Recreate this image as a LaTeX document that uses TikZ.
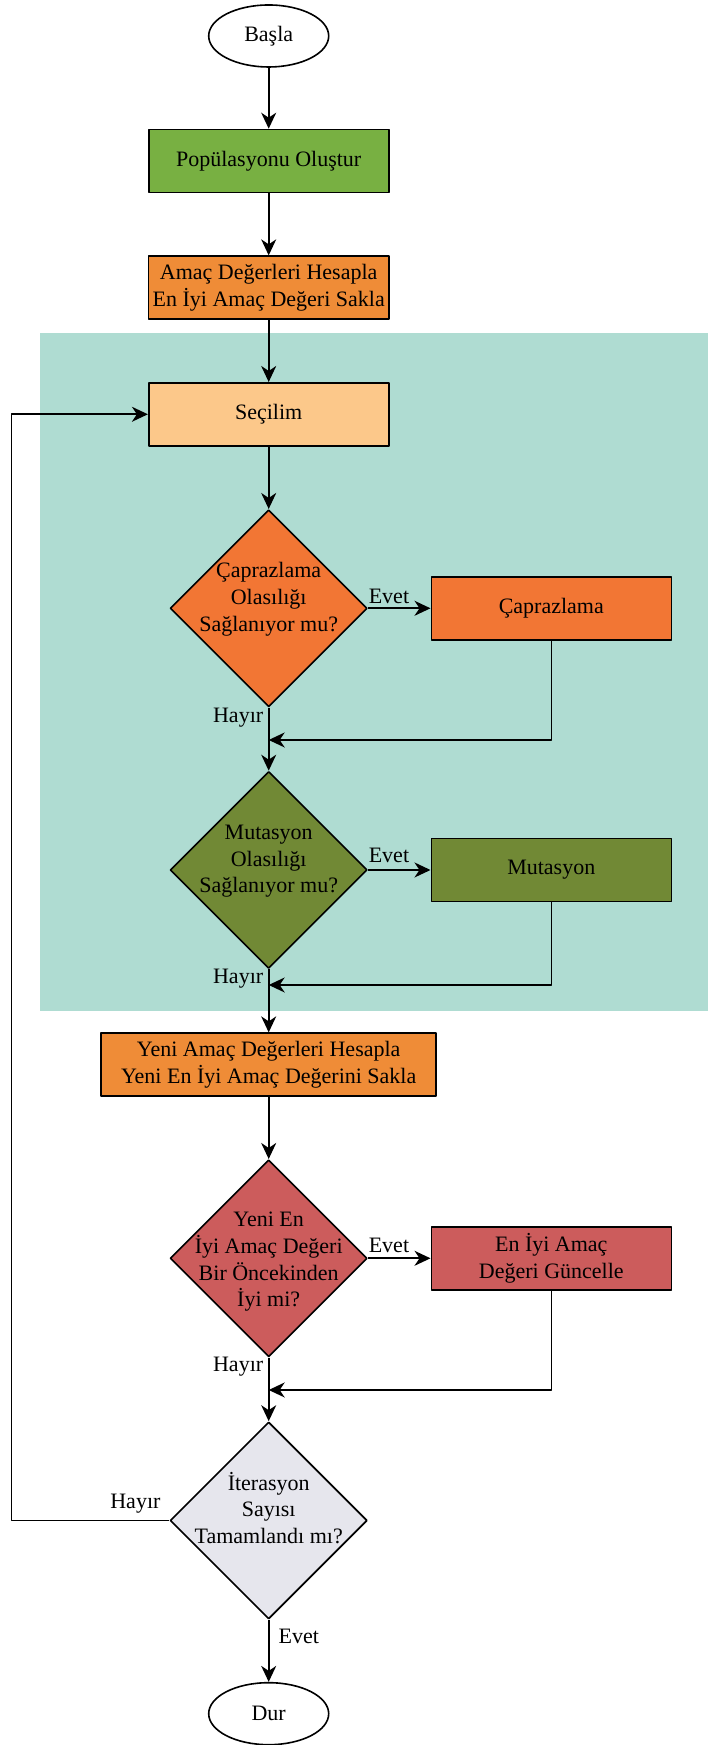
\documentclass[tikz,border=0pt]{standalone}
\usepackage{fontspec}
\setmainfont{Liberation Serif}
\usepackage{tikz}
\usetikzlibrary{arrows.meta,shapes.geometric}
\usepackage{xcolor}

\definecolor{poolcol}{HTML}{AFDCD2}
\definecolor{greencol}{HTML}{78B042}
\definecolor{amaccol}{HTML}{EF8C37}
\definecolor{secimcol}{HTML}{FCC88A}
\definecolor{caprazcol}{HTML}{F27634}
\definecolor{mutcol}{HTML}{718935}
\definecolor{redcol}{HTML}{CC5C5C}
\definecolor{itercol}{HTML}{E6E6ED}

\begin{document}
\begin{tikzpicture}[>={Stealth[length=8bp,width=7.5bp,inset=2.5bp]},line join=bevel,
    line width=0.8bp,font=\fontsize{11bp}{13.3bp}\selectfont,
    terminal/.style={draw,ellipse,fill=white,minimum width=60bp,minimum height=31bp,inner sep=0pt},
    procbox/.style={draw,rectangle,minimum width=120bp,minimum height=31.5bp,inner sep=2bp,align=center},
    decision/.style={draw,diamond,minimum width=98.5bp,minimum height=98.5bp,inner sep=0pt},
    dlabel/.style={align=center,inner sep=0pt},
    yesno/.style={inner sep=0pt}]
    %%
    \useasboundingbox (0bp,0bp) rectangle (354bp,872.5bp);
    \fill[poolcol] (19.85bp,367bp) rectangle (354bp,705.85bp);
    %%
    \node (basla) at (134.35bp,854.5bp) [terminal] {Başla};
    \node (popul) at (134.35bp,792bp) [procbox,fill=greencol] {Popülasyonu Oluştur};
    \node (amac) at (134.35bp,728.65bp) [procbox,fill=amaccol] {Amaç Değerleri Hesapla\\En İyi Amaç Değeri Sakla};
    \node (secilim) at (134.35bp,665.35bp) [procbox,fill=secimcol] {Seçilim};
    \node (dcap) at (134.35bp,568.35bp) [decision,fill=caprazcol,
      label={[dlabel,yshift=4.5bp]center:Çaprazlama\\Olasılığı\\Sağlanıyor mu?}] {};
    \node (capraz) at (275.65bp,568.35bp) [procbox,fill=caprazcol] {Çaprazlama};
    \node (dmut) at (134.35bp,437.5bp) [decision,fill=mutcol,
      label={[dlabel,yshift=4.3bp]center:Mutasyon\\Olasılığı\\Sağlanıyor mu?}] {};
    \node (mutasyon) at (275.65bp,437.5bp) [procbox,fill=mutcol] {Mutasyon};
    \node (yeni) at (134.35bp,340.15bp) [procbox,fill=amaccol,minimum width=167.5bp] {Yeni Amaç Değerleri Hesapla\\Yeni En İyi Amaç Değerini Sakla};
    \node (dbest) at (134.35bp,243.35bp) [decision,fill=redcol,
      label={[dlabel,yshift=-1.8bp]center:Yeni En\\İyi Amaç Değeri\\Bir Öncekinden\\İyi mi?}] {};
    \node (guncelle) at (275.65bp,243.35bp) [procbox,fill=redcol] {En İyi Amaç\\Değeri Güncelle};
    \node (diter) at (134.35bp,112.25bp) [decision,fill=itercol,
      label={[dlabel,yshift=6.3bp]center:İterasyon\\Sayısı\\Tamamlandı mı?}] {};
    \node (dur) at (134.35bp,15.65bp) [terminal] {Dur};
    %
    \coordinate (m1) at (134.35bp,502.5bp);
    \coordinate (m2) at (134.35bp,380bp);
    \coordinate (m3) at (134.35bp,177.5bp);
    \coordinate (back) at (5.65bp,112.25bp);
    %
    \draw[->] (basla) -- (popul);
    \draw[->] (popul) -- (amac);
    \draw[->] (amac) -- (secilim);
    \draw[->] (secilim) -- (dcap);
    \draw[->] (dcap) -- (capraz);
    \draw[->] (dcap.south) -- (dmut.north);
    \draw[->] (capraz.south) |- (m1);
    \draw[->] (dmut) -- (mutasyon);
    \draw[->] (dmut.south) -- (yeni.north);
    \draw[->] (mutasyon.south) |- (m2);
    \draw[->] (yeni) -- (dbest);
    \draw[->] (dbest) -- (guncelle);
    \draw[->] (dbest.south) -- (diter.north);
    \draw[->] (guncelle.south) |- (m3);
    \draw[->] (diter.west) -- (back) |- (secilim.west);
    \draw[->] (diter.south) -- (dur.north);
    %
    \node (e1) at (184bp,574.5bp) [yesno,anchor=west] {Evet};
    \node (h1) at (132bp,513.5bp) [yesno,anchor=east] {Hayır};
    \node (e2) at (184bp,445bp) [yesno,anchor=west] {Evet};
    \node (h2) at (132bp,383.3bp) [yesno,anchor=east] {Hayır};
    \node (e3) at (184bp,250bp) [yesno,anchor=west] {Evet};
    \node (h3) at (132bp,189.2bp) [yesno,anchor=east] {Hayır};
    \node (h4) at (67.7bp,120.8bp) [yesno] {Hayır};
    \node (e4) at (138.9bp,54.5bp) [yesno,anchor=west] {Evet};
    %
\end{tikzpicture}
\end{document}
